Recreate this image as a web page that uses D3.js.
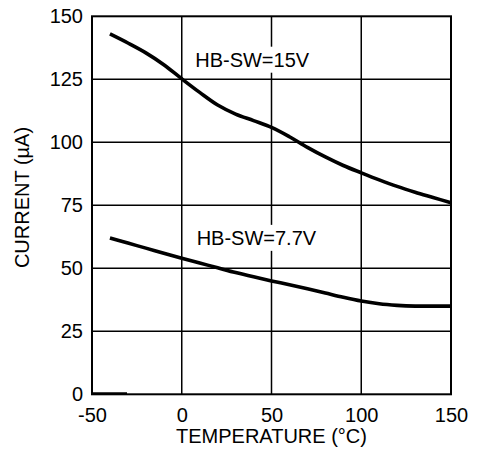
<!DOCTYPE html>
<html>
<head>
<meta charset="utf-8">
<script src="https://cdn.jsdelivr.net/npm/d3@7"></script>
<style>
  html, body { margin: 0; padding: 0; background: #fff; }
  svg { display: block; }
  text { font-family: "Liberation Sans", Arial, sans-serif; fill: #000; }
</style>
</head>
<body>
<svg id="chart" width="478" height="464"></svg>
<script>
// ---- data ----
const temperatures = [-40, -30, -20, -10, 0, 10, 20, 30, 40, 50, 60, 70, 80, 90, 100, 110, 120, 130, 140, 150];
const current15V   = [143, 139.4, 135.5, 130.8, 125.2, 119.8, 114.8, 111.2, 108.6, 105.9, 102.2, 98, 94.2, 90.8, 87.9, 85.1, 82.5, 80.2, 78.1, 76];
const current7V7   = [62, 60, 58, 56, 54, 52.1, 50.2, 48.3, 46.6, 45, 43.5, 41.9, 40.2, 38.5, 37, 35.9, 35.3, 35, 35, 35];
const stubTemps    = [-50, -30.5];
const stubValues   = [0.4, 0.4];
const xTicks = [-50, 0, 50, 100, 150];
const yTicks = [0, 25, 50, 75, 100, 125, 150];
const seriesLabels = [
  { text: "HB-SW=15V",  t: 7.5,  v: 130 },
  { text: "HB-SW=7.7V", t: 8.3, v: 59.3 }
];
const xTitle = "TEMPERATURE (°C)";
const yTitle = "CURRENT (µA)";

// ---- layout ----
const svg = d3.select("#chart");
const pLeft = 92, pRight = 451, pTop = 16.3, pBottom = 394.3;
const x = d3.scaleLinear().domain([-50, 150]).range([pLeft, pRight]);
const y = d3.scaleLinear().domain([0, 150]).range([pBottom, pTop]);

// grid
const grid = svg.append("g").attr("stroke", "#000").attr("stroke-width", 1.5);
grid.selectAll("line.v").data(xTicks.slice(1, -1)).join("line")
  .attr("class", "v")
  .attr("x1", d => x(d)).attr("x2", d => x(d)).attr("y1", pTop).attr("y2", pBottom);
grid.selectAll("line.h").data(yTicks.slice(1, -1)).join("line")
  .attr("class", "h")
  .attr("y1", d => y(d)).attr("y2", d => y(d)).attr("x1", pLeft).attr("x2", pRight);

// series labels with white backgrounds
seriesLabels.forEach(l => {
  const g = svg.append("g");
  const t = g.append("text")
    .attr("x", x(l.t)).attr("y", y(l.v))
    .attr("font-size", 20)
    .text(l.text);
  const bb = t.node().getBBox();
  g.insert("rect", "text")
    .attr("x", bb.x - 2).attr("y", bb.y - 2)
    .attr("width", bb.width + 4).attr("height", bb.height + 4)
    .attr("fill", "#fff");
});

// curves
const line = d3.line()
  .x(d => x(d[0])).y(d => y(d[1]))
  .curve(d3.curveCatmullRom.alpha(0.5));
[current15V, current7V7].forEach(vals => {
  svg.append("path")
    .attr("d", line(temperatures.map((t, i) => [t, vals[i]])))
    .attr("fill", "none").attr("stroke", "#000")
    .attr("stroke-width", 3.6).attr("stroke-linejoin", "round");
});

// stub near origin
svg.append("path")
  .attr("d", d3.line().x(d => x(d[0])).y(d => y(d[1]))(stubTemps.map((t, i) => [t, stubValues[i]])))
  .attr("fill", "none").attr("stroke", "#000").attr("stroke-width", 2);

// border
svg.append("rect")
  .attr("x", pLeft).attr("y", pTop).attr("width", pRight - pLeft).attr("height", pBottom - pTop)
  .attr("fill", "none").attr("stroke", "#000").attr("stroke-width", 2);

// axes (labels only; lines drawn as border/grid)
const fmt = d => String(d);
const xAxis = d3.axisBottom(x).tickValues(xTicks).tickSize(0).tickPadding(14).tickFormat(fmt);
const gx = svg.append("g").attr("transform", `translate(0,${pBottom})`).call(xAxis);
gx.select(".domain").remove();
gx.selectAll("text").attr("font-size", 20).attr("font-family", "\"Liberation Sans\", Arial, sans-serif").attr("fill", "#000");

const yAxis = d3.axisLeft(y).tickValues(yTicks).tickSize(0).tickPadding(9).tickFormat(fmt);
const gy = svg.append("g").attr("transform", `translate(${pLeft},0)`).call(yAxis);
gy.select(".domain").remove();
gy.selectAll("text").attr("font-size", 20).attr("font-family", "\"Liberation Sans\", Arial, sans-serif").attr("fill", "#000");

// titles
svg.append("text")
  .attr("x", x(50)).attr("y", 443.3)
  .attr("text-anchor", "middle").attr("font-size", 20)
  .text(xTitle);
svg.append("text")
  .attr("transform", "translate(28.5,197.5) rotate(-90)")
  .attr("text-anchor", "middle").attr("font-size", 20)
  .text(yTitle);
</script>
</body>
</html>
